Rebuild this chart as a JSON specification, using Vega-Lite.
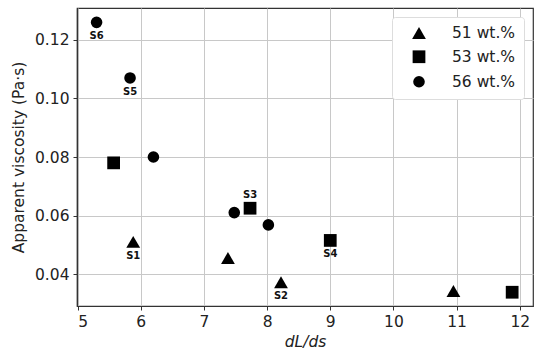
{
  "$schema": "https://vega.github.io/schema/vega-lite/v6.json",
  "width": 456,
  "height": 298,
  "autosize": {"type": "none"},
  "padding": {"left": 77, "top": 8, "right": 17, "bottom": 55},
  "config": {
    "font": "DejaVu Sans",
    "view": {"stroke": "#333", "strokeWidth": 1.2},
    "axis": {
      "labelFont": "DejaVu Sans",
      "titleFont": "DejaVu Sans",
      "labelFontSize": 15.5,
      "titleFontSize": 15.5,
      "titleFontWeight": "normal",
      "labelColor": "#222",
      "titleColor": "#222",
      "gridColor": "#c8c8c8",
      "gridWidth": 1,
      "domainColor": "#333",
      "domainWidth": 1.2,
      "tickColor": "#333",
      "tickSize": 4,
      "labelPadding": 4
    },
    "legend": {
      "orient": "top-right", "offset": 9,
      "labelFontSize": 15.5, "labelFont": "DejaVu Sans", "labelColor": "#222",
      "symbolFillColor": "black", "symbolStrokeColor": "black",
      "padding": 8, "symbolOffset": 11, "rowPadding": 5, "labelOffset": 25,
      "fillColor": "white", "strokeColor": "#ddd", "cornerRadius": 3
    }
  },
  "data": {
    "values": [
      {"x": 5.88, "y": 0.051, "series": "51 wt.%", "label": "S1"},
      {"x": 7.38, "y": 0.0455, "series": "51 wt.%", "label": ""},
      {"x": 8.22, "y": 0.0372, "series": "51 wt.%", "label": "S2"},
      {"x": 10.95, "y": 0.0342, "series": "51 wt.%", "label": ""},
      {"x": 5.57, "y": 0.078, "series": "53 wt.%", "label": ""},
      {"x": 7.73, "y": 0.0625, "series": "53 wt.%", "label": "S3"},
      {"x": 9.0, "y": 0.0515, "series": "53 wt.%", "label": "S4"},
      {"x": 11.88, "y": 0.0338, "series": "53 wt.%", "label": ""},
      {"x": 5.3, "y": 0.126, "series": "56 wt.%", "label": "S6"},
      {"x": 5.83, "y": 0.107, "series": "56 wt.%", "label": "S5"},
      {"x": 6.2, "y": 0.08, "series": "56 wt.%", "label": ""},
      {"x": 7.48, "y": 0.061, "series": "56 wt.%", "label": ""},
      {"x": 8.02, "y": 0.0568, "series": "56 wt.%", "label": ""}
    ]
  },
  "encoding": {
    "x": {
      "field": "x", "type": "quantitative",
      "scale": {"domain": [4.99, 12.21], "nice": false, "zero": false},
      "axis": {"values": [5, 6, 7, 8, 9, 10, 11, 12], "title": "dL/ds", "titleFontStyle": "italic", "titlePadding": 5}
    },
    "y": {
      "field": "y", "type": "quantitative",
      "scale": {"domain": [0.0291, 0.1309], "nice": false, "zero": false},
      "axis": {"values": [0.04, 0.06, 0.08, 0.1, 0.12], "format": ".2f", "title": "Apparent viscosity (Pa·s)", "titlePadding": 8}
    }
  },
  "layer": [
    {
      "mark": {"type": "point", "filled": true, "opacity": 1, "color": "black"},
      "encoding": {
        "shape": {
          "field": "series", "type": "nominal",
          "scale": {"domain": ["51 wt.%", "53 wt.%", "56 wt.%"], "range": ["triangle-up", "square", "circle"]},
          "legend": {"title": null}
        },
        "size": {
          "field": "series", "type": "nominal",
          "scale": {"domain": ["51 wt.%", "53 wt.%", "56 wt.%"], "range": [190, 135, 125]},
          "legend": {"title": null}
        }
      }
    },
    {
      "transform": [{"filter": "datum.label != '' && datum.label != 'S3'"}],
      "mark": {"type": "text", "fontWeight": "bold", "fontSize": 10, "dy": 14, "color": "#111"},
      "encoding": {"text": {"field": "label"}}
    },
    {
      "transform": [{"filter": "datum.label == 'S3'"}],
      "mark": {"type": "text", "fontWeight": "bold", "fontSize": 10, "dy": -13, "color": "#111"},
      "encoding": {"text": {"field": "label"}}
    }
  ]
}
